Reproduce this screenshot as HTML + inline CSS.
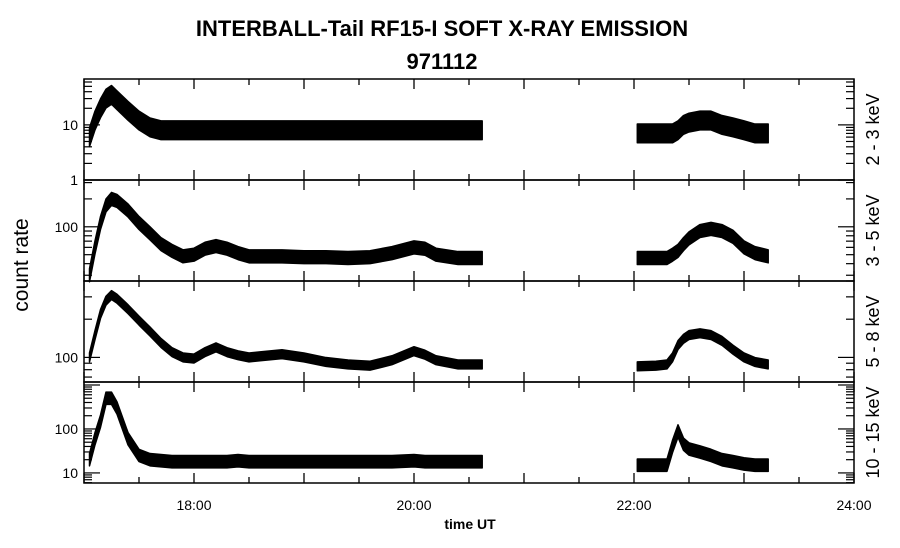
<!DOCTYPE html>
<html><head><meta charset="utf-8"><style>
body{margin:0;background:#fff;width:900px;height:548px;overflow:hidden}
svg{display:block;font-family:"Liberation Sans",Arial,sans-serif}
</style></head><body>
<svg id="c" width="900" height="548">
<text x="442" y="36" text-anchor="middle" font-size="22" font-weight="bold">INTERBALL-Tail RF15-I SOFT X-RAY EMISSION</text>
<text x="442" y="69" text-anchor="middle" font-size="22" font-weight="bold">971112</text>
<text transform="translate(28,265) rotate(-90)" text-anchor="middle" font-size="21">count rate</text>
<text x="470" y="529" text-anchor="middle" font-size="14" font-weight="bold">time UT</text>
</svg>
<script>
const xTicks=[17,18,19,20,21,22,23,24];
const xTickLabels=["","18:00","","20:00","","22:00","","24:00"];
const panelLabels=["2 - 3 keV","3 - 5 keV","5 - 8 keV","10 - 15 keV"];
const yTickValues=[[1,10],[100],[100],[10,100]];
const times1=[17.05,17.1,17.15,17.2,17.25,17.3,17.4,17.5,17.6,17.7,17.8,17.9,18.0,18.1,18.2,18.3,18.4,18.5,18.6,18.8,19.0,19.2,19.4,19.6,19.8,20.0,20.1,20.2,20.4,20.62];
const times2=[22.03,22.2,22.3,22.35,22.4,22.45,22.5,22.6,22.7,22.8,22.9,23.0,23.1,23.22];
const p1a=[6,12,20,30,35,28,18,12,9,8,8,8,8,8,8,8,8,8,8,8,8,8,8,8,8,8,8,8,8,8];
const p1b=[7,7,7,7,8,10,11,12,12,10,9,8,7,7];
const p2a=[30,60,110,170,200,190,150,110,85,65,55,48,50,58,62,58,52,48,48,48,47,47,46,47,52,60,58,50,46,46];
const p2b=[46,46,46,50,55,65,75,90,95,90,78,60,52,48];
const p3a=[100,150,220,280,310,290,240,195,160,130,110,100,98,110,120,110,104,100,102,106,100,92,88,86,95,112,105,95,88,88];
const p3b=[85,86,88,100,125,140,150,155,150,135,115,100,92,88];
const p4a=[20,60,150,500,500,300,60,25,20,19,18,18,18,18,18,18,19,18,18,18,18,18,18,18,18,19,18,18,18,18];
const p4b=[15,15,15,40,90,45,35,30,25,20,18,16,15,15];
const series=[[p1a,p1b],[p2a,p2b],[p3a,p3b],[p4a,p4b]];
const X0=84,X1=854;
const panels=[{top:79,bot:180,lo:1,hi:68,sp:0.17},{top:180,bot:281,lo:26,hi:320,sp:0.07},{top:281,bot:382,lo:64,hi:400,sp:0.035},{top:382,bot:483,lo:5.9,hi:1170,sp:0.14}];
const svg=document.getElementById('c');const NS='http://www.w3.org/2000/svg';
function mk(t,a,p){const e=document.createElementNS(NS,t);for(const k in a)e.setAttribute(k,a[k]);(p||svg).appendChild(e);return e;}
const xs=t=>X0+(t-17)/7*(X1-X0);
panels.forEach((P,i)=>{
  const ys=v=>P.bot-(Math.log10(v)-Math.log10(P.lo))/(Math.log10(P.hi)-Math.log10(P.lo))*(P.bot-P.top);
  const g=mk('g',{});
  
  
  const fr=mk('rect',{x:X0,y:P.top,width:X1-X0,height:P.bot-P.top,fill:'none',stroke:'#000','stroke-width':1.5},g);
  
  
  for(let t=17;t<=24;t+=0.5){const x=xs(t),L=(t%1===0)?10:6;
    mk('line',{x1:x,x2:x,y1:P.bot,y2:P.bot-L,stroke:'#000','stroke-width':1.3},g);
    mk('line',{x1:x,x2:x,y1:P.top,y2:P.top+L,stroke:'#000','stroke-width':1.3},g);}
  for(let d=Math.floor(Math.log10(P.lo));d<=Math.ceil(Math.log10(P.hi));d++){
    for(let m=1;m<10;m++){const v=m*Math.pow(10,d);if(v<P.lo||v>P.hi)continue;const y=ys(v),L=m===1?16:8;
      mk('line',{x1:X0,x2:X0+L,y1:y,y2:y,stroke:'#000','stroke-width':1.2},g);
      mk('line',{x1:X1,x2:X1-L,y1:y,y2:y,stroke:'#000','stroke-width':1.2},g);}}
  yTickValues[i].forEach(v=>{const t=mk('text',{x:X0-6,y:ys(v)+5,'text-anchor':'end','font-size':14},g);t.textContent=v;
    
    });
  [[times1,series[i][0]],[times2,series[i][1]]].forEach(([ts,vs],k)=>{
    let up=[],dn=[];
    ts.forEach((t,j)=>{up.push(xs(t)+','+ys(vs[j]*Math.pow(10,P.sp)));dn.unshift(xs(t)+','+ys(vs[j]/Math.pow(10,P.sp)));});
    const pg=mk('polygon',{points:up.concat(dn).join(' '),fill:'#000',stroke:'#000','stroke-width':1.5,'stroke-linejoin':'round'},g);
    
    
  });
  const lb=mk('text',{transform:`translate(879,${(P.top+P.bot)/2}) rotate(-90)`,'text-anchor':'middle','font-size':18},g);
  lb.textContent=panelLabels[i];
  
  
});
xTicks.forEach((t,i)=>{if(!xTickLabels[i])return;const e=mk('text',{x:xs(t),y:510,'text-anchor':'middle','font-size':14});e.textContent=xTickLabels[i];
  
  });
</script>
</body></html>
